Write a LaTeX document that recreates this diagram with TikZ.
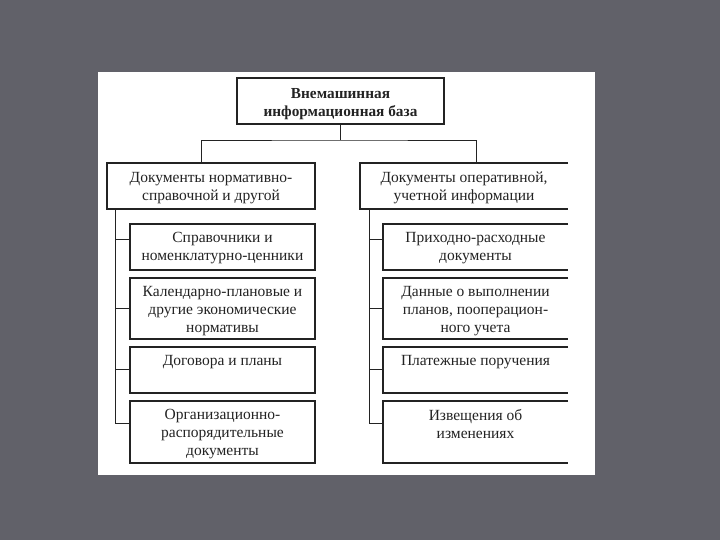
\documentclass[tikz,border=0pt]{standalone}
\usepackage{fontspec}
\setmainfont{Liberation Serif}
\definecolor{bggray}{RGB}{97,97,105}
\definecolor{ink}{RGB}{35,35,35}
\begin{document}
\begin{tikzpicture}[x=1pt,y=-1pt,
  boxbase/.style={minimum height=46pt,inner sep=0pt,outer sep=0pt,draw=none},
  fullbox/.style={boxbase},
  openbox/.style={boxbase},
  txt/.style={anchor=north,inner sep=0pt,align=center,text=ink,font=\fontsize{15.5}{18}\selectfont},
  border/.style={draw=ink,line width=1.2pt},
  wire/.style={draw=ink,line width=0.9pt}]
\useasboundingbox (0,0) rectangle (720,540);
\fill[bggray] (0,0) rectangle (720,540);
\fill[white] (98,72) rectangle (595,475);

% top
\node[fullbox,minimum width=207pt] (top) at (340.5,101) {};
\node[txt,font=\fontsize{15.3}{18}\selectfont\bfseries,yshift=-10pt] (toptxt) at (top.north) {Внемашинная\\информационная база};

% categories
\node[fullbox,minimum width=208pt] (lcat) at (211,186) {};
\node[txt,yshift=-9pt] (lcattxt) at (lcat.north) {Документы нормативно-\\справочной и другой};
\node[openbox,minimum width=208pt] (rcat) at (464,186) {};
\node[txt,yshift=-9pt] (rcattxt) at (rcat.north) {Документы оперативной,\\учетной информации};

% left children
\node[fullbox,minimum width=185pt] (lc1) at (222.5,247) {};
\node[fullbox,minimum width=185pt,minimum height=61pt] (lc2) at (222.5,308.5) {};
\node[fullbox,minimum width=185pt] (lc3) at (222.5,370) {};
\node[fullbox,minimum width=185pt,minimum height=62pt] (lc4) at (222.5,432) {};
\node[txt,yshift=-8pt] (lc1t) at (lc1.north) {Справочники и\\номенклатурно-ценники};
\node[txt,yshift=-8pt] (lc2t) at (lc2.north) {Календарно-плановые и\\другие экономические\\нормативы};
\node[txt,yshift=-8pt] (lc3t) at (lc3.north) {Договора и планы};
\node[txt,yshift=-8pt] (lc4t) at (lc4.north) {Организационно-\\распорядительные\\документы};

% right children
\node[openbox,minimum width=185pt] (rc1) at (475.5,247) {};
\node[openbox,minimum width=185pt,minimum height=61pt] (rc2) at (475.5,308.5) {};
\node[openbox,minimum width=185pt] (rc3) at (475.5,370) {};
\node[openbox,minimum width=185pt,minimum height=62pt] (rc4) at (475.5,432) {};
\node[txt,yshift=-8pt] (rc1t) at (rc1.north) {Приходно-расходные\\документы};
\node[txt,yshift=-8pt] (rc2t) at (rc2.north) {Данные о выполнении\\планов, пооперацион-\\ного учета};
\node[txt,yshift=-8pt] (rc3t) at (rc3.north) {Платежные поручения};
\node[txt,yshift=-8pt] (rc4t) at (rc4.north) {Извещения об\\изменениях};

% closed boxes
\foreach \b in {top,lcat,lc1,lc2,lc3,lc4}
  \draw[border] (\b.north west) rectangle (\b.south east);
% open boxes (no right side)
\foreach \b in {rcat,rc1,rc2,rc3,rc4}
  \draw[border] (\b.north east) -- (\b.north west) -- (\b.south west) -- (\b.south east);

% top connectors
\coordinate (j) at ([yshift=-16pt]top.south);
\draw[wire] (top.south) -- (j);
\draw[wire] ([xshift=-10pt]lcat.north) |- (j) -| ([xshift=12pt]rcat.north);

% left trunk
\coordinate (lt) at ([xshift=8pt]lcat.south west);
\coordinate (lk1) at ([yshift=8pt]lc1.west);
\coordinate (lk2) at (lc2.west);
\coordinate (lk3) at ([yshift=1pt]lc3.west);
\coordinate (lk4) at ([yshift=9pt]lc4.west);
\draw[wire] (lt) |- (lk4);
\foreach \k in {lk1,lk2,lk3} \draw[wire] (\k) -- (\k -| lt);

% right trunk
\coordinate (rt) at ([xshift=9pt]rcat.south west);
\coordinate (rk1) at ([yshift=8pt]rc1.west);
\coordinate (rk2) at (rc2.west);
\coordinate (rk3) at ([yshift=1pt]rc3.west);
\coordinate (rk4) at ([yshift=9pt]rc4.west);
\draw[wire] (rt) |- (rk4);
\foreach \k in {rk1,rk2,rk3} \draw[wire] (\k) -- (\k -| rt);
\end{tikzpicture}
\end{document}
